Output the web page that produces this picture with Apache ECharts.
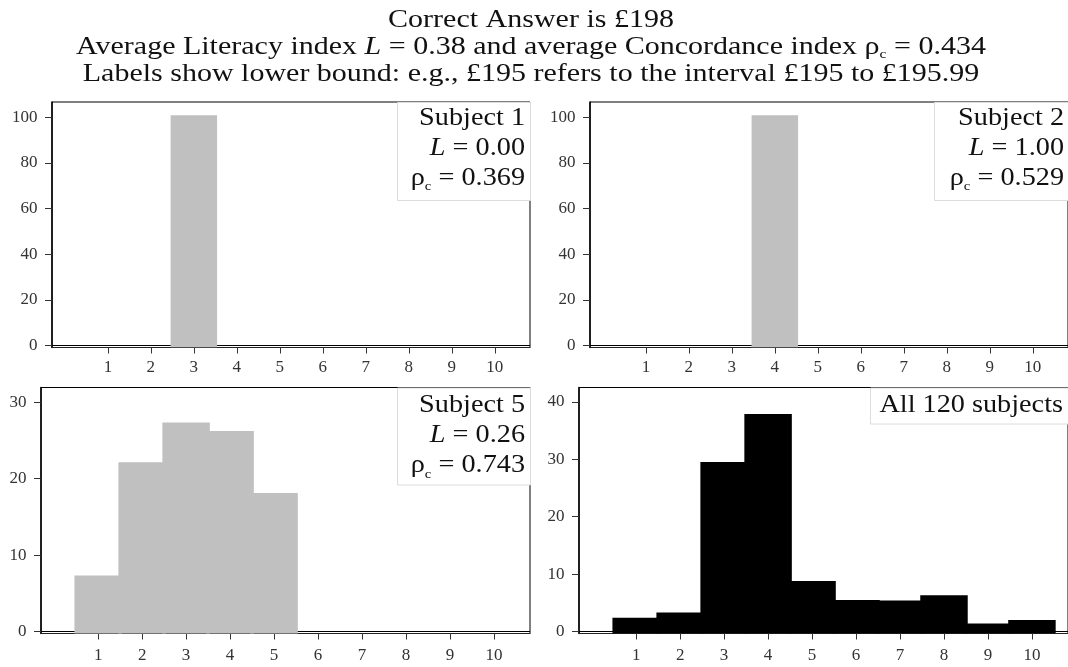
<!DOCTYPE html>
<html><head><meta charset="utf-8">
<script src="https://cdn.jsdelivr.net/npm/echarts@6/dist/echarts.min.js"></script>
<style>html,body{margin:0;padding:0;background:#fff}#c{width:1068px;height:667px}</style>
</head><body><div id="c"></div>
<script>
// ---------- data ----------
const bins = [1, 2, 3, 4, 5, 6, 7, 8, 9, 10];
const binLabels = ['1', '2', '3', '4', '5', '6', '7', '8', '9', '10'];
const subject1 = [0, 0, 100, 0, 0, 0, 0, 0, 0, 0];
const subject2 = [0, 0, 0, 100, 0, 0, 0, 0, 0, 0];
const subject5 = [7.1, 21.9, 27.1, 26.0, 17.9, 0, 0, 0, 0, 0];
const allSubjects = [2.1, 3.0, 29.2, 37.6, 8.5, 5.2, 5.1, 6.0, 1.1, 1.7];
const yTicksSingle = [0, 20, 40, 60, 80, 100];
const yTicksSubject5 = [0, 10, 20, 30];
const yTicksAll = [0, 10, 20, 30, 40];
const panelNames = ['Subject 1', 'Subject 2', 'Subject 5', 'All 120 subjects'];
const panelL = ['0.00', '1.00', '0.26', null];
const panelRho = ['0.369', '0.529', '0.743', null];
const correctAnswer = '£198';
const avgL = '0.38';
const avgRho = '0.434';
const exampleLower = '£195';
const exampleUpper = '£195.99';

// ---------- layout / style ----------
const FF = '"Liberation Serif", "DejaVu Serif", serif';
const panelData = [subject1, subject2, subject5, allSubjects];
const panelTicks = [yTicksSingle, yTicksSingle, yTicksSubject5, yTicksAll];
const panelColors = ['#c0c0c0', '#c0c0c0', '#c0c0c0', '#000000'];
const grids = [
  { left: 52, top: 102, width: 478, height: 245.5 },
  { left: 590, top: 102, width: 478, height: 245.5 },
  { left: 41, top: 387.5, width: 489, height: 246 },
  { left: 579, top: 387.5, width: 489, height: 246 }
];
const yRanges = [[-0.875, 106.6], [-0.875, 106.6], [-0.235, 31.9], [-0.35, 42.5]];
const xLabelMargin = [12, 12, 14, 14];
const boxes = [
  { x: 397, y: 102, w: 133, h: 98, tx: 525, ty: 103.5 },
  { x: 934, y: 102, w: 140, h: 98, tx: 1064, ty: 103.5 },
  { x: 397, y: 387.5, w: 133, h: 97, tx: 525, ty: 390.8 },
  { x: 870, y: 387.5, w: 205, h: 36, tx: 1063, ty: 390.8 }
];

function makeRender(color) {
  return function (params, api) {
    const x = api.value(0), v = api.value(1);
    if (!v) return null;
    const p0 = api.coord([x - 0.5, v]);
    const p1 = api.coord([x + 0.5, 0]);
    return {
      type: 'rect',
      shape: { x: p0[0], y: p0[1], width: p1[0] - p0[0], height: p1[1] - p0[1] },
      style: { fill: color, stroke: color, lineWidth: 3.5 }
    };
  };
}

const richBase = (size, lh) => ({
  i: { font: 'italic ' + size + 'px ' + FF, fontStyle: 'italic', fontSize: size, fontFamily: FF, lineHeight: lh, fill: '#111' },
  s: { font: Math.round(size * 0.52) + 'px ' + FF, fontSize: Math.round(size * 0.52), fontFamily: FF, lineHeight: Math.round(lh * 0.6), verticalAlign: 'bottom', fill: '#111' }
});

const titleText = [
  'Correct Answer is ' + correctAnswer,
  'Average Literacy index {i|L} = ' + avgL + ' and average Concordance index ρ{s|c} = ' + avgRho,
  'Labels show lower bound: e.g., ' + exampleLower + ' refers to the interval ' + exampleLower + ' to ' + exampleUpper
].join('\n');

const graphics = [{
  type: 'text', x: 531, y: 7.5, z: 100, silent: true, scaleX: 1.2,
  style: {
    text: titleText, align: 'center', verticalAlign: 'top',
    font: '25px ' + FF, fontSize: 25, fontFamily: FF, fill: '#111', lineHeight: 26.7,
    rich: richBase(25, 26.7)
  }
}];
boxes.forEach((b, k) => {
  graphics.push({
    type: 'rect', z: 90, silent: true,
    shape: { x: b.x + 0.5, y: b.y + 0.5, width: b.w, height: b.h },
    style: { fill: '#fff', stroke: '#dcdcdc', lineWidth: 1 }
  });
  let t = panelNames[k];
  if (panelL[k] !== null) t += '\n{i|L} = ' + panelL[k] + '\nρ{s|c} = ' + panelRho[k];
  graphics.push({
    type: 'text', x: b.tx, y: b.ty, z: 100, silent: true, scaleX: 1.13,
    style: {
      text: t, align: 'right', verticalAlign: 'top',
      font: '25px ' + FF, fontSize: 25, fontFamily: FF, fill: '#111', lineHeight: 30,
      rich: richBase(25, 30)
    }
  });
});

const option = {
  animation: false,
  backgroundColor: '#fff',
  grid: grids.map(g => Object.assign({ show: true, borderColor: '#000', borderWidth: 1, backgroundColor: 'transparent' }, g)),
  xAxis: grids.map((g, k) => ({
    type: 'value', gridIndex: k, min: -0.3, max: 10.82,
    axisLine: { show: true, onZero: false, lineStyle: { color: '#222', width: 1.2 } },
    axisTick: { show: true, length: 6, customValues: bins, lineStyle: { color: '#333' } },
    axisLabel: {
      customValues: bins, margin: xLabelMargin[k], fontSize: 17, fontFamily: FF, color: '#333',
      formatter: v => binLabels[bins.indexOf(v)]
    },
    splitLine: { show: false }
  })),
  yAxis: grids.map((g, k) => ({
    type: 'value', gridIndex: k, min: yRanges[k][0], max: yRanges[k][1],
    axisLine: { show: true, onZero: false, lineStyle: { color: '#000', width: 1.5 } },
    axisTick: { show: true, length: 7, customValues: panelTicks[k], lineStyle: { color: '#333' } },
    axisLabel: { customValues: panelTicks[k], margin: 14.5, fontSize: 17, fontFamily: FF, color: '#333' },
    splitLine: { show: false }
  })),
  series: panelData.map((arr, k) => ({
    type: 'custom', xAxisIndex: k, yAxisIndex: k, z: 3, silent: true,
    encode: { x: 0, y: 1 },
    data: bins.map((b, i) => [b, arr[i]]),
    renderItem: makeRender(panelColors[k]),
    markLine: {
      silent: true, symbol: 'none', z: 1, animation: false,
      label: { show: false },
      lineStyle: { color: '#000', width: 1, type: 'solid' },
      data: [{ yAxis: 0 }]
    }
  })),
  graphic: { elements: graphics }
};
const chart = echarts.init(document.getElementById('c'), null, { renderer: 'canvas' });
chart.setOption(option);
</script>
</body></html>
